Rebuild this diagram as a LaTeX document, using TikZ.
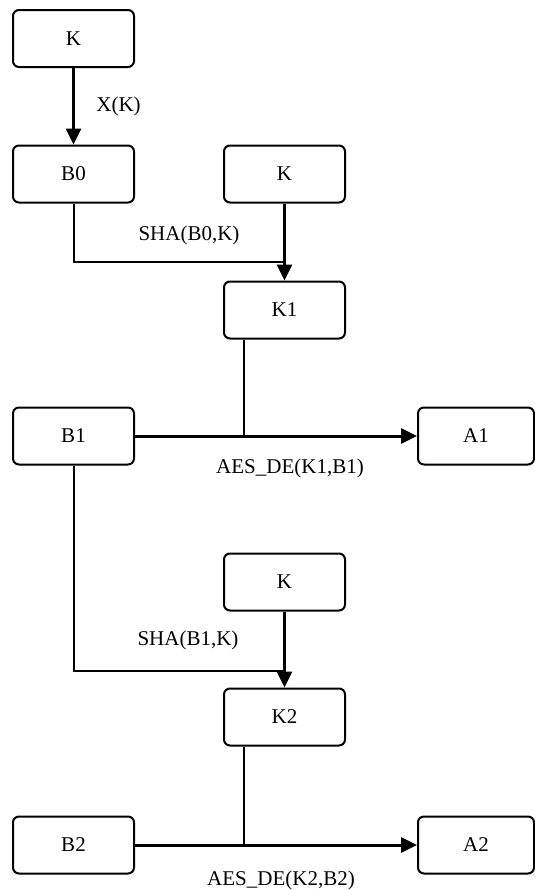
\documentclass[tikz,border=0pt]{standalone}
\usepackage{fontspec}
\setmainfont{Liberation Serif}
\usetikzlibrary{arrows.meta}

\begin{document}
\begin{tikzpicture}[x=0.5pt, y=-0.5pt, >={Triangle[length=8pt,width=7.5pt]},
        box/.style={draw, rounded corners=3pt, line width=1pt, minimum width=60.5pt,
                    minimum height=28.5pt, inner sep=0pt, font=\fontsize{10.5}{12}\selectfont},
        outbox/.style={box, minimum width=58pt},
        flow/.style={->, line width=1.5pt},
        feed/.style={line width=1pt},
        lbl/.style={inner sep=0pt, font=\fontsize{10.5}{12}\selectfont}]
        \useasboundingbox (0,0) rectangle (535,890);

        \node[box]    (k0)  at (73.5,38.5)  {K};
        \node[box]    (b0)  at (73.5,174)   {B0};
        \node[box]    (ka)  at (284.5,174)  {K};
        \node[box]    (k1)  at (284.5,310)  {K1};
        \node[box]    (b1)  at (73.5,436)   {B1};
        \node[outbox] (a1)  at (476,436)    {A1};
        \node[box]    (kb)  at (284.5,582)  {K};
        \node[box]    (k2)  at (284.5,717)  {K2};
        \node[box]    (b2)  at (73.5,845)   {B2};
        \node[outbox] (a2)  at (476,845)    {A2};

        \coordinate (j1) at (284.5,262);
        \coordinate (m1) at (244,436);
        \coordinate (j2) at (284.5,671);
        \coordinate (m2) at (244,845);

        % key to first block
        \draw[flow] (k0) -- (b0);
        \node[lbl, anchor=west] (lx) at (96,106) {X(K)};

        % first round
        \draw[feed] (b0.south) -- (b0.south |- j1) -- (j1);
        \draw[flow] (ka) -- (k1);
        \node[lbl] (ls1) at (189,235) {SHA(B0,K)};
        \draw[feed] (k1.south -| m1) -- (m1);
        \draw[flow] (b1) -- (a1);
        \node[lbl] (la1) at (290,468) {AES\_DE(K1,B1)};

        % second round
        \draw[feed] (b1.south) -- (b1.south |- j2) -- (j2);
        \draw[flow] (kb) -- (k2);
        \node[lbl] (ls2) at (188,640) {SHA(B1,K)};
        \draw[feed] (k2.south -| m2) -- (m2);
        \draw[flow] (b2) -- (a2);
        \node[lbl] (la2) at (281,880) {AES\_DE(K2,B2)};
\end{tikzpicture}
\end{document}
